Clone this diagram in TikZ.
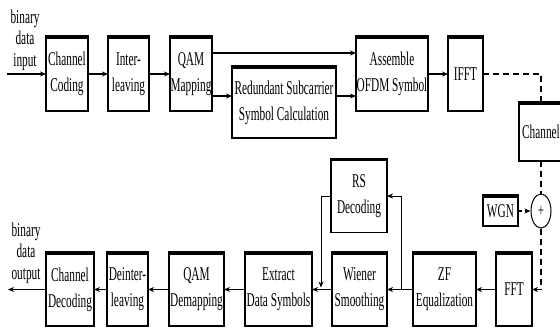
\documentclass[tikz,border=0pt]{standalone}
\usepackage{fontspec}
\setmainfont{Liberation Serif}[FakeStretch=0.58]
\usetikzlibrary{arrows.meta,shapes.geometric}
\begin{document}
\begin{tikzpicture}[x=1pt,y=-1pt,
  blk/.style={draw, line width=1.8pt, inner sep=0pt, outer sep=0pt, align=center, font=\fontsize{19.5}{26}\selectfont},
  arr/.style={line width=1.4pt, -{Stealth[length=6pt,width=5pt]}},
  thinarr/.style={line width=0.9pt, -{Stealth[length=6pt,width=5pt]}},
  dsh/.style={line width=1.4pt, dash pattern=on 6pt off 4pt},
  lbl/.style={align=center, inner sep=0pt, font=\fontsize{19.5}{21.5}\selectfont}]
\useasboundingbox (0,0) rectangle (560,330);
\clip (0,0) rectangle (560,330);
\fill[white] (0,0) rectangle (560,330);

% top row
\node[blk, minimum width=42pt, minimum height=74pt] (cc) at (67,74) {Channel\\Coding};
\node[blk, minimum width=41pt, minimum height=74pt] (il) at (128.5,74) {Inter-\\leaving};
\node[blk, minimum width=42pt, minimum height=74pt] (qam) at (191,74) {QAM\\Mapping};
\node[blk, minimum width=104pt, minimum height=71pt] (red) at (284,102.5) {Redundant Subcarrier\\Symbol Calculation};
\node[blk, minimum width=72pt, minimum height=74pt] (asm) at (392,74) {Assemble\\OFDM Symbol};
\node[blk, minimum width=35pt, minimum height=74pt] (ifft) at (465.5,74) {IFFT};
\node[blk, minimum width=44pt, minimum height=58pt] (chan) at (541,132) {Channel};

% noise
\node[blk, minimum width=35pt, minimum height=30pt] (wgn) at (500.5,211) {WGN};
\node[draw, ellipse, line width=1pt, minimum width=20pt, minimum height=34pt, inner sep=0pt, font=\fontsize{18}{18}\selectfont] (sum) at (541,211) {+};

% bottom row
\node[blk, minimum width=48pt, minimum height=73pt] (cd) at (70,289.5) {Channel\\Decoding};
\node[blk, minimum width=41pt, minimum height=73pt] (dil) at (127.5,289.5) {Deinter-\\leaving};
\node[blk, minimum width=55pt, minimum height=73pt] (qdm) at (196.5,289.5) {QAM\\Demapping};
\node[blk, minimum width=67pt, minimum height=73pt] (ext) at (278.5,289.5) {Extract\\Data Symbols};
\node[blk, minimum width=55pt, minimum height=73pt] (wie) at (359.5,289.5) {Wiener\\Smoothing};
\node[blk, minimum width=56pt, minimum height=73pt] (rs) at (359,196) {RS\\Decoding};
\node[blk, minimum width=63pt, minimum height=73pt] (zf) at (444.5,289.5) {ZF\\Equalization};
\node[blk, minimum width=36pt, minimum height=73pt] (fft) at (514,289.5) {FFT};

% heavier top edges
\foreach \n in {cc,il,qam,red,asm,ifft,chan,wgn,cd,dil,qdm,ext,wie,rs,zf,fft}
  \draw[line width=3.4pt] ([xshift=-0.9pt]\n.north west) -- ([xshift=0.9pt]\n.north east);

% labels
\node[lbl] (inlab) at (25,40) {binary\\data\\input};
\node[lbl] (outlab) at (26,253) {binary\\data\\output};

% top connectors
\coordinate (in) at (7,74);
\draw[arr] (in) -- (cc.west);
\draw[arr] (cc.east) -- (il.west);
\draw[arr] (il.east) -- (qam.west);
\draw[arr] ([yshift=-16pt]qam.north east) -- ([yshift=-16pt]asm.north west);
\path ([yshift=15pt]qam.south east) coordinate (qs);
\draw[arr] (qs) -- (qs -| red.west);
\draw[arr] (qs -| red.east) -- (qs -| asm.west);
\draw[arr] (asm.east) -- (ifft.west);

% channel path
\draw[dsh] (ifft.east) -| (chan.north);
\draw[dsh] (chan.south) -- (sum.north);
\draw[line width=1.4pt, dash pattern=on 4pt off 3pt, -{Stealth[length=6pt,width=5pt]}] (wgn.east) -- (sum.west);
\draw[dsh, -{Stealth[length=6pt,width=5pt]}] (sum.south) |- (fft.east);

% bottom connectors
\draw[arr] (fft.west) -- (zf.east);
\draw[arr] (zf.west) -- (wie.east);
\draw[arr] (wie.west) -- (ext.east);
\draw[arr] (ext.west) -- (qdm.east);
\draw[arr] (qdm.west) -- (dil.east);
\draw[arr] (dil.west) -- (cd.east);
\coordinate (out) at (8,289.5);
\draw[arr] (cd.west) -- (out);

% RS feedback
\coordinate (br) at (401,289.5);
\coordinate (fb) at (321,287.5);
\draw[thinarr] (br) |- (rs.east);
\draw[thinarr] (rs.west) -| (fb);
\end{tikzpicture}
\end{document}
